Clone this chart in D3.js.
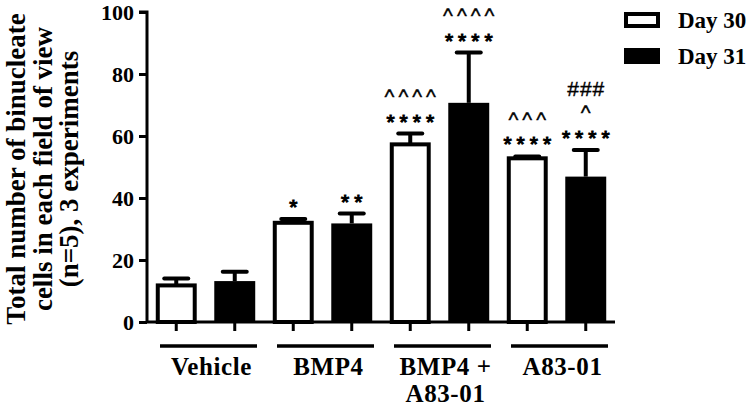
<!DOCTYPE html>
<meta charset="utf-8">
<style>
body { margin: 0; background: #fff; }
text { font-family: "Liberation Serif", "Times New Roman", serif; font-weight: bold; fill: #000; }
.mark { font-family: "Liberation Sans", Arial, sans-serif; font-weight: normal; stroke: #000; }
</style>
<script src="https://d3js.org/d3.v7.min.js"></script>
<body>
<script>
const groups = ['Vehicle', 'BMP4', 'BMP4 +|A83-01', 'A83-01'];
const days = ['Day 30', 'Day 31'];
const day30 = [11.8, 32.0, 57.3, 52.8];
const day31 = [13.2, 31.8, 70.7, 46.9];
const err30 = [2.2, 1.2, 3.5, 0.6];
const err31 = [3.0, 3.2, 16.2, 8.6];
// significance marks, listed from the bar upward
const marks30 = [[], ['*'], ['****', '^^^^'], ['****', '^^^']];
const marks31 = [[], ['**'], ['****', '^^^^'], ['****', '^', '###']];
const yTicks = [0, 20, 40, 60, 80, 100];
const yTitle = ['Total number of binucleate', 'cells in each field of view', '(n=5), 3 experiments'];

const data = [];
groups.forEach((g, i) => {
  data.push({group: g, day: days[0], value: day30[i], err: err30[i], marks: marks30[i]});
  data.push({group: g, day: days[1], value: day31[i], err: err31[i], marks: marks31[i]});
});

const width = 750, height = 409;
const mLeft = 147, mRight = 615, mTop = 12, mBottom = 322;

const svg = d3.select('body').append('svg')
  .attr('width', width)
  .attr('height', height);

const x0 = d3.scaleBand()
  .domain(groups)
  .range([mLeft, mRight]);

const x1 = d3.scaleBand()
  .domain(days)
  .range([0, x0.bandwidth()])
  .paddingInner(0.3)
  .paddingOuter(0.15);

const y = d3.scaleLinear()
  .domain([0, 100])
  .range([mBottom, mTop]);

const fill = d => d.day === days[0] ? '#fff' : '#000';

// bars
const bars = svg.append('g');
bars.selectAll('rect')
  .data(data)
  .enter()
  .append('rect')
    .attr('x', d => x0(d.group) + x1(d.day) + (d.day === days[0] ? 2 : 0))
    .attr('width', d => x1.bandwidth() - (d.day === days[0] ? 4 : 0))
    .attr('y', d => y(d.value))
    .attr('height', d => mBottom - y(d.value))
    .style('fill', fill)
    .style('stroke', '#000')
    .style('stroke-width', d => d.day === days[0] ? 4 : 0);

// error bars (upper only)
const cx = d => x0(d.group) + x1(d.day) + x1.bandwidth() / 2;
const errs = svg.append('g').style('stroke', '#000').style('stroke-width', 4);
errs.selectAll('line.stem')
  .data(data)
  .enter()
  .append('line')
    .attr('class', 'stem')
    .attr('x1', cx).attr('x2', cx)
    .attr('y1', d => y(d.value))
    .attr('y2', d => y(d.value + d.err));
errs.selectAll('line.cap')
  .data(data)
  .enter()
  .append('line')
    .attr('class', 'cap')
    .attr('x1', d => cx(d) - 12).attr('x2', d => cx(d) + 12)
    .attr('y1', d => y(d.value + d.err))
    .attr('y2', d => y(d.value + d.err))
    .style('stroke-linecap', 'round');

// significance marks
data.forEach(d => {
  d.marks.forEach((m, k) => {
    const c = m[0];
    const ls = c === '#' ? 1 : (c === '^' ? 4 : 5);
    svg.append('text')
      .attr('class', 'mark')
      .attr('x', cx(d) + ls / 2)
      .attr('y', y(d.value + d.err) - 5 - k * 24.5)
      .attr('text-anchor', 'middle')
      .style('font-size', '21px')
      .style('stroke-width', c === '*' ? 1.1 : 0.4)
      .style('letter-spacing', ls + 'px')
      .text(m);
  });
});

// y axis
const yAxis = svg.append('g')
  .attr('transform', `translate(${mLeft},0)`)
  .call(d3.axisLeft(y).tickValues(yTicks).tickSize(8).tickPadding(5));
yAxis.selectAll('path, line').style('stroke', '#000').style('stroke-width', 3);
yAxis.select('.domain').attr('d', `M-8,${mTop}H0V${mBottom}`);
yAxis.selectAll('text')
  .style('font-family', '"Liberation Serif", serif')
  .style('font-weight', 'bold')
  .style('font-size', '22px')
  .attr('dy', '0.34em');

// x axis with ticks at bar centres
const xAxis = svg.append('g');
xAxis.append('line')
  .attr('x1', mLeft).attr('x2', mRight)
  .attr('y1', mBottom).attr('y2', mBottom)
  .style('stroke', '#000').style('stroke-width', 3);
xAxis.selectAll('line.tick')
  .data(data)
  .enter()
  .append('line')
    .attr('class', 'tick')
    .attr('x1', cx).attr('x2', cx)
    .attr('y1', mBottom).attr('y2', mBottom + 9)
    .style('stroke', '#000').style('stroke-width', 3);

// group underlines and labels
const glab = svg.append('g');
groups.forEach(g => {
  const a = x0(g) + 13, b = x0(g) + x0.bandwidth() - 7;
  glab.append('line')
    .attr('x1', a).attr('x2', b)
    .attr('y1', 346).attr('y2', 346)
    .style('stroke', '#000').style('stroke-width', 3.5);
  g.split('|').forEach((s, i) => {
    glab.append('text')
      .attr('x', (a + b) / 2 + 3)
      .attr('y', 375 + i * 27)
      .attr('text-anchor', 'middle')
      .style('font-size', '25px')
      .style('letter-spacing', '0.6px')
      .text(s);
  });
});

// y title
const yt = svg.append('text')
  .attr('transform', 'translate(25,169) rotate(-90)')
  .attr('text-anchor', 'middle')
  .style('font-size', '27px');
yTitle.forEach((s, i) => {
  yt.append('tspan').attr('x', 0).attr('dy', i ? 26.5 : 0).text(s);
});

// legend
const legend = svg.append('g');
days.forEach((d, i) => {
  legend.append('rect')
    .attr('x', 626).attr('y', 14 + i * 36)
    .attr('width', 32).attr('height', 12)
    .style('fill', i ? '#000' : '#fff')
    .style('stroke', '#000').style('stroke-width', 4);
  legend.append('text')
    .attr('x', 678).attr('y', 28 + i * 36)
    .style('font-size', '23px')
    .text(d);
});
</script>
</body>
